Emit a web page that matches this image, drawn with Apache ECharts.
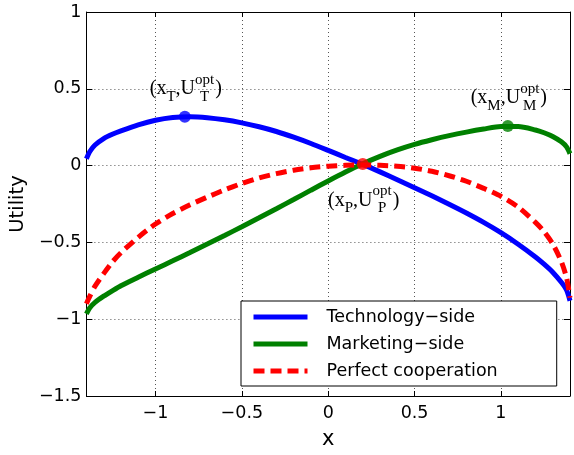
<!DOCTYPE html>
<html><head><meta charset="utf-8">
<script src="https://cdn.jsdelivr.net/npm/echarts@6/dist/echarts.min.js"></script>
<style>html,body{margin:0;padding:0;background:#fff}#c{width:574px;height:455px}</style>
</head><body><div id="c"></div>
<script>
// ---- data ----
const xValues = [-1.4,-1.38,-1.35,-1.3,-1.25,-1.2,-1.1,-1.0,-0.9,-0.8,-0.7,-0.6,-0.5,-0.4,-0.3,-0.2,-0.1,0,0.1,0.2,0.3,0.4,0.5,0.6,0.7,0.8,0.9,1.0,1.1,1.2,1.25,1.3,1.35,1.38,1.4];
const techValues = [0.045,0.092,0.134,0.176,0.204,0.226,0.265,0.295,0.313,0.318,0.312,0.298,0.278,0.253,0.222,0.185,0.144,0.099,0.053,0.008,-0.041,-0.092,-0.144,-0.197,-0.252,-0.309,-0.37,-0.437,-0.512,-0.595,-0.642,-0.694,-0.76,-0.81,-0.88];
const marketValues = [-0.965,-0.925,-0.89,-0.85,-0.815,-0.782,-0.727,-0.673,-0.62,-0.566,-0.511,-0.455,-0.398,-0.34,-0.281,-0.221,-0.16,-0.1,-0.042,0.012,0.06,0.102,0.138,0.168,0.195,0.218,0.238,0.254,0.254,0.232,0.214,0.19,0.155,0.122,0.078];
const coopValues = [-0.9,-0.85,-0.785,-0.703,-0.628,-0.567,-0.467,-0.38,-0.312,-0.255,-0.205,-0.158,-0.116,-0.08,-0.052,-0.03,-0.014,-0.004,0.002,0.004,0.002,-0.004,-0.017,-0.037,-0.066,-0.102,-0.148,-0.2,-0.27,-0.37,-0.43,-0.51,-0.625,-0.73,-0.86];
const seriesNames = ['Technology\u2212side', 'Marketing\u2212side', 'Perfect cooperation'];
const xTickValues = [-1, -0.5, 0, 0.5, 1];
const optX = [-0.83, 1.04, 0.2];
const optY = [0.318, 0.258, 0.01];
const optSubs = ['T', 'M', 'P'];
const optBelow = [false, false, true];

// ---- style ----
const colors = ['#0000ff', '#008000', '#ff0000'];
const sansFont = '"DejaVu Sans"';
const tickFont = 17.5;
const minusFmt = v => String(v).replace('-', '\u2212');
const pairs = ys => xValues.map((x, i) => [x, ys[i]]);

const chart = echarts.init(document.getElementById('c'), null, {renderer: 'canvas'});
const axisLineStyle = {color: '#000', width: 1};
const gridLine = {show: true, lineStyle: {color: '#555', width: 1, type: [1, 3]}};

const option = {
  animation: false,
  backgroundColor: '#fff',
  grid: {left: 86, right: 4, top: 12, bottom: 55, containLabel: false},
  xAxis: [
    {type: 'value', min: -1.4, max: 1.4, position: 'bottom',
     name: 'x', nameLocation: 'middle', nameGap: 33,
     nameTextStyle: {fontFamily: sansFont, fontSize: 21, color: '#000'},
     axisLine: {show: true, onZero: false, lineStyle: axisLineStyle},
     axisTick: {show: true, inside: true, length: 5, customValues: xTickValues, lineStyle: axisLineStyle},
     axisLabel: {show: true, margin: 8, customValues: xTickValues, formatter: minusFmt,
                 fontFamily: sansFont, fontSize: tickFont, color: '#000'},
     splitLine: gridLine},
    {type: 'value', min: -1.4, max: 1.4, position: 'top',
     axisLine: {show: true, onZero: false, lineStyle: axisLineStyle},
     axisTick: {show: true, inside: true, length: 5, customValues: xTickValues, lineStyle: axisLineStyle},
     axisLabel: {show: false}, splitLine: {show: false}}
  ],
  yAxis: [
    {type: 'value', min: -1.5, max: 1, interval: 0.5, position: 'left',
     name: 'Utility', nameLocation: 'middle', nameGap: 44, nameRotate: 90,
     nameTextStyle: {fontFamily: sansFont, fontSize: 19.5, color: '#000'},
     axisLine: {show: true, onZero: false, lineStyle: axisLineStyle},
     axisTick: {show: true, inside: true, length: 6, lineStyle: axisLineStyle},
     axisLabel: {show: true, margin: 5, formatter: minusFmt,
                 fontFamily: sansFont, fontSize: tickFont, color: '#000'},
     splitLine: gridLine},
    {type: 'value', min: -1.5, max: 1, interval: 0.5, position: 'right',
     axisLine: {show: true, onZero: false, lineStyle: axisLineStyle},
     axisTick: {show: true, inside: true, length: 6, lineStyle: axisLineStyle},
     axisLabel: {show: false}, splitLine: {show: false}}
  ],
  legend: {
    orient: 'vertical', left: 241, top: 301,
    data: seriesNames,
    padding: [7, 59, 6, 10],
    itemWidth: 54, itemHeight: 14, itemGap: 9,
    itemStyle: {opacity: 0},
    lineStyle: {width: 5},
    backgroundColor: '#fff', borderColor: '#000', borderWidth: 1,
    textStyle: {fontFamily: sansFont, fontSize: tickFont, color: '#000', padding: [0, 0, 0, 14]}
  },
  series: [
    {name: seriesNames[0], type: 'line', data: pairs(techValues), symbol: 'none', smooth: 0.25,
     lineStyle: {color: colors[0], width: 5}, itemStyle: {color: colors[0]}, z: 2},
    {name: seriesNames[1], type: 'line', data: pairs(marketValues), symbol: 'none', smooth: 0.25,
     lineStyle: {color: colors[1], width: 5}, itemStyle: {color: colors[1]}, z: 3},
    {name: seriesNames[2], type: 'line', data: pairs(coopValues), symbol: 'none', smooth: 0.25,
     lineStyle: {color: colors[2], width: 5, type: [11, 6]}, itemStyle: {color: colors[2]}, z: 4},
    {name: 'optima', type: 'scatter', symbol: 'circle', symbolSize: 12, z: 10,
     data: optX.map((x, i) => ({value: [x, optY[i]], itemStyle: {color: colors[i]}}))}
  ]
};
chart.setOption(option);

// ---- math-style annotations (x_K, U_K^opt) placed at the optimum points ----
const serif = '"Liberation Serif"';
const mainSize = 20, subSize = 15;
const ctx = document.createElement('canvas').getContext('2d');
function tw(t, s) { ctx.font = s + 'px ' + serif; return ctx.measureText(t).width; }
const graphics = [];
function put(t, x, baseline, s) {
  graphics.push({type: 'text', x: x, y: baseline - 0.34 * s, z: 100, silent: true,
    style: {text: t, fontFamily: serif, fontSize: s, fill: '#000', align: 'left', verticalAlign: 'middle'}});
}
optX.forEach((xv, i) => {
  const p = chart.convertToPixel({gridIndex: 0}, [xv, optY[i]]);
  const sub = optSubs[i];
  const wA = tw('(x', mainSize), wS = tw(sub, subSize), wC = tw(',U', mainSize);
  const wO = tw('opt', subSize), wE = tw(')', mainSize);
  const total = wA + wS + wC + Math.max(wO, wS) + 1 + wE;
  let x0 = p[0] - total / 2 + 1;
  const base = optBelow[i] ? p[1] + 43 : p[1] - 21;
  put('(x', x0, base, mainSize); x0 += wA;
  put(sub, x0, base + 6, subSize); x0 += wS;
  put(',U', x0, base, mainSize); x0 += wC;
  put('opt', x0, base - 11, subSize);
  put(sub, x0 + (wO - wS) / 2, base + 6, subSize); x0 += Math.max(wO, wS) + 1;
  put(')', x0, base, mainSize);
});
chart.setOption({graphic: graphics});
</script>
</body></html>
